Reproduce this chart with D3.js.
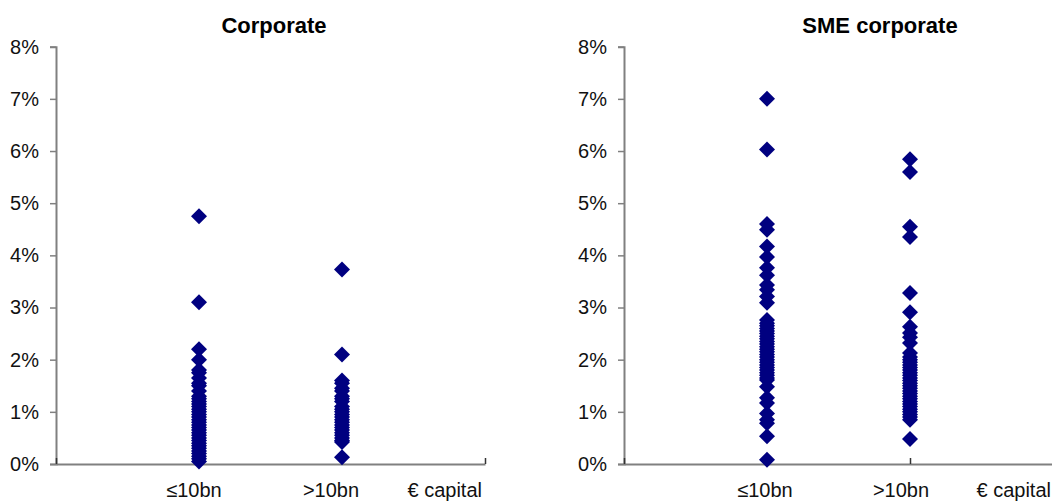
<!DOCTYPE html>
<html>
<head>
<meta charset="utf-8">
<script src="https://cdn.jsdelivr.net/npm/d3@7"></script>
<style>
  html, body { margin: 0; padding: 0; background: #fff; }
  svg { display: block; font-family: "Liberation Sans", Arial, sans-serif; }
</style>
</head>
<body>
<svg id="chart" width="1052" height="504"></svg>
<script>
// ---- data (values in %) ----
const panelTitles = ["Corporate", "SME corporate"];
const categories = ["≤10bn", ">10bn"];
const axisTitle = "€ capital";
const yTicks = [0, 1, 2, 3, 4, 5, 6, 7, 8];

const corporateSmall = [4.75, 3.1, 2.2, 2.0, 1.8, 1.75, 1.65, 1.55, 1.5, 1.4, 1.3, 1.25, 1.2, 1.15, 1.1, 1.05, 1.0,
  0.95, 0.9, 0.85, 0.8, 0.75, 0.7, 0.65, 0.6, 0.55, 0.5, 0.45, 0.4, 0.35, 0.3, 0.25, 0.2, 0.15, 0.1, 0.05];
const corporateLarge = [3.73, 2.1, 1.6, 1.55, 1.45, 1.4, 1.3, 1.25, 1.2, 1.1, 1.05, 1.0, 0.95, 0.9, 0.85, 0.8,
  0.75, 0.7, 0.65, 0.6, 0.55, 0.5, 0.45, 0.42, 0.13];
const smeSmall = [7.0, 6.03, 4.6, 4.49, 4.17, 3.97, 3.76, 3.62, 3.43, 3.34, 3.21, 3.09, 2.76, 2.7, 2.65, 2.6, 2.55,
  2.5, 2.45, 2.4, 2.35, 2.3, 2.25, 2.2, 2.15, 2.1, 2.05, 2.0, 1.95, 1.9, 1.85, 1.8, 1.75, 1.7, 1.65, 1.61, 1.48,
  1.27, 1.17, 0.97, 0.85, 0.78, 0.53, 0.08];
const smeLarge = [5.84, 5.6, 4.55, 4.35, 3.28, 2.91, 2.63, 2.51, 2.43, 2.32, 2.13, 2.05, 2.0, 1.95, 1.9, 1.85,
  1.8, 1.75, 1.7, 1.65, 1.6, 1.55, 1.5, 1.45, 1.4, 1.35, 1.3, 1.25, 1.2, 1.15, 1.1, 1.05, 1.0, 0.95, 0.9, 0.85, 0.48];

const panelSeries = [[corporateSmall, corporateLarge], [smeSmall, smeLarge]];

// ---- layout ----
const svg = d3.select("#chart");
const panels = [
  { x0: 56, x1: 485, titleX: 274, labelDx: [-5, -11], capX: 482 },
  { x0: 624, x1: 1053, titleX: 880, labelDx: [-2, -9], capX: 1051 }
];
const y = d3.scaleLinear().domain([0, 8]).range([464, 46.7]);
const axisColor = "#808080";
const markColor = "#000080";
const diamond = d3.symbol().type(d3.symbolSquare).size(128);

panels.forEach((p, i) => {
  const x = d3.scaleLinear().domain([0, 3]).range([p.x0, p.x1]);
  const g = svg.append("g");

  // title
  g.append("text")
    .attr("x", p.titleX).attr("y", 33)
    .attr("text-anchor", "middle")
    .attr("font-size", 22).attr("font-weight", "bold").attr("fill", "#000")
    .text(panelTitles[i]);

  // y axis
  const yAxis = d3.axisLeft(y).tickValues(yTicks).tickSize(6).tickPadding(11)
    .tickFormat(d => d + "%");
  const ya = g.append("g").attr("transform", `translate(${p.x0},0)`).call(yAxis);
  ya.select(".domain").attr("stroke", axisColor).attr("stroke-width", 2);
  ya.selectAll(".tick line").attr("stroke", axisColor).attr("stroke-width", 1.5);
  ya.selectAll(".tick text").attr("font-size", 20).attr("fill", "#111")
    .attr("font-family", "Liberation Sans, Arial, sans-serif");

  // x axis (inside ticks)
  const xAxis = d3.axisBottom(x).tickValues([0, 1, 2, 3]).tickSizeInner(-6).tickSizeOuter(0).tickFormat("");
  const xa = g.append("g").attr("transform", `translate(0,${y(0)})`).call(xAxis);
  xa.select(".domain").attr("stroke", axisColor).attr("stroke-width", 2);
  xa.selectAll(".tick line").attr("stroke", "#333").attr("stroke-width", 1.5);

  // points
  panelSeries[i].forEach((vals, ci) => {
    g.append("g").selectAll("path")
      .data(vals)
      .join("path")
      .attr("d", diamond)
      .attr("transform", d => `translate(${x(ci + 1)},${y(d)}) rotate(45)`)
      .attr("fill", markColor);
  });

  // category labels
  categories.forEach((c, ci) => {
    g.append("text")
      .attr("x", x(ci + 1) + p.labelDx[ci]).attr("y", 497)
      .attr("text-anchor", "middle")
      .attr("font-size", 20).attr("fill", "#111")
      .text(c);
  });
  g.append("text")
    .attr("x", p.capX).attr("y", 497)
    .attr("text-anchor", "end")
    .attr("font-size", 20).attr("fill", "#111")
    .text(axisTitle);
});
</script>
</body>
</html>
